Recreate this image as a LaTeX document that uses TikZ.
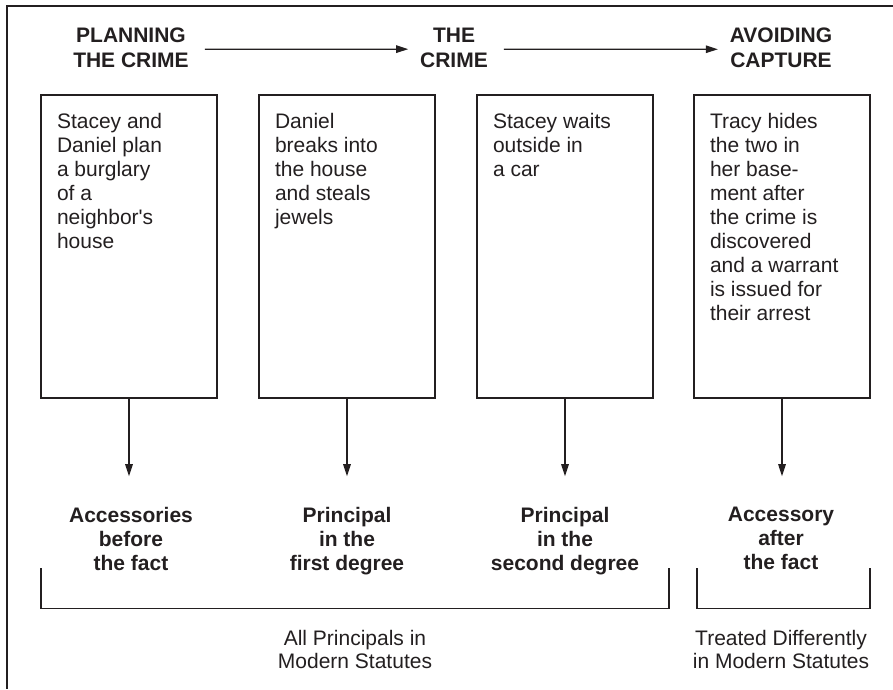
\documentclass[tikz,border=0pt]{standalone}
\usepackage{fontspec}
\setmainfont{Liberation Sans}[Ligatures=TeXOff]
\usetikzlibrary{arrows.meta}
\definecolor{ink}{HTML}{231F20}
\begin{document}
\begin{tikzpicture}[x=1pt,y=-1pt,
  every node/.style={text=ink,inner sep=0pt,outer sep=0pt},
  lin/.style={draw=ink,line width=1.3pt},
  boxnode/.style={lin,minimum width=176pt,minimum height=303pt,anchor=north west},
  body/.style={font=\fontsize{21}{24}\selectfont,align=left,anchor=north west,execute at begin node=\strut},
  head/.style={font=\fontsize{21}{24.5}\selectfont\bfseries,align=center,anchor=north,execute at begin node=\strut,execute at end node=\strut},
  lab/.style={font=\fontsize{21}{23.8}\selectfont\bfseries,align=center,anchor=north,execute at begin node=\strut},
  note/.style={font=\fontsize{21}{23.5}\selectfont,align=center,anchor=north,execute at begin node=\strut},
  arr/.style={lin,-{Triangle[length=12pt,width=7.5pt]}}
]
\useasboundingbox (0,0) rectangle (893,689);
% frame
\draw[lin] (893,6) -- (7,6) -- (7,689);

% headings
\node[head] (h1) at (131,28.2) {PLANNING\\THE CRIME};
\node[head] (h2) at (454,28.2) {THE\\CRIME};
\node[head] (h3) at (781,28.2) {AVOIDING\\CAPTURE};
\draw[arr] ([xshift=16pt,yshift=2.2pt]h1.east) -- ([xshift=-12pt,yshift=2.2pt]h2.west);
\draw[arr] ([xshift=16pt,yshift=2.2pt]h2.east) -- ([xshift=-12pt,yshift=2.2pt]h3.west);

% boxes
\node[boxnode] (b1) at (41,95) {};
\node[boxnode] (b2) at (259,95) {};
\node[boxnode] (b3) at (477,95) {};
\node[boxnode] (b4) at (694,95) {};

\node[body] (t1) at ([xshift=16pt,yshift=-18.2pt]b1.north west) {Stacey and\\Daniel plan\\a burglary\\of a\\neighbor's\\house};
\node[body] (t2) at ([xshift=16pt,yshift=-18.2pt]b2.north west) {Daniel\\breaks into\\the house\\and steals\\jewels};
\node[body] (t3) at ([xshift=16pt,yshift=-18.2pt]b3.north west) {Stacey waits\\outside in\\a car};
\node[body] (t4) at ([xshift=16pt,yshift=-18.2pt]b4.north west) {Tracy hides\\the two in\\her base-\\ment after\\the crime is\\discovered\\and a warrant\\is issued for\\their arrest};

% labels
\node[lab] (l1) at (131,507.2) {Accessories\\before\\the fact};
\node[lab] (l2) at (347,507.2) {Principal\\in the\\first degree};
\node[lab] (l3) at (565,507.2) {Principal\\in the\\second degree};
\node[lab] (l4) at (781,507.2) {Accessory\\after\\the fact};

\draw[arr, shorten >=31pt] (b1.south) -- (b1.south |- l1.north);
\draw[arr, shorten >=31pt] (b2.south) -- (b2.south |- l2.north);
\draw[arr, shorten >=31pt] (b3.south) -- (b3.south |- l3.north);
\draw[arr, shorten >=31pt] (b4.south) -- (b4.south |- l4.north);

% brackets
\coordinate (k1a) at (41,568);
\coordinate (k1b) at (669,568);
\coordinate (k2a) at (697,568);
\coordinate (k2b) at (870,568);
\draw[lin] (k1a) -- ++(0,40.5) -| (k1b);
\draw[lin] (k2a) -- ++(0,40.5) -| (k2b);

% notes
\node[note] (n1) at (355,630.2) {All Principals in\\Modern Statutes};
\node[note] (n2) at (781,630.2) {Treated Differently\\in Modern Statutes};
\end{tikzpicture}
\end{document}
